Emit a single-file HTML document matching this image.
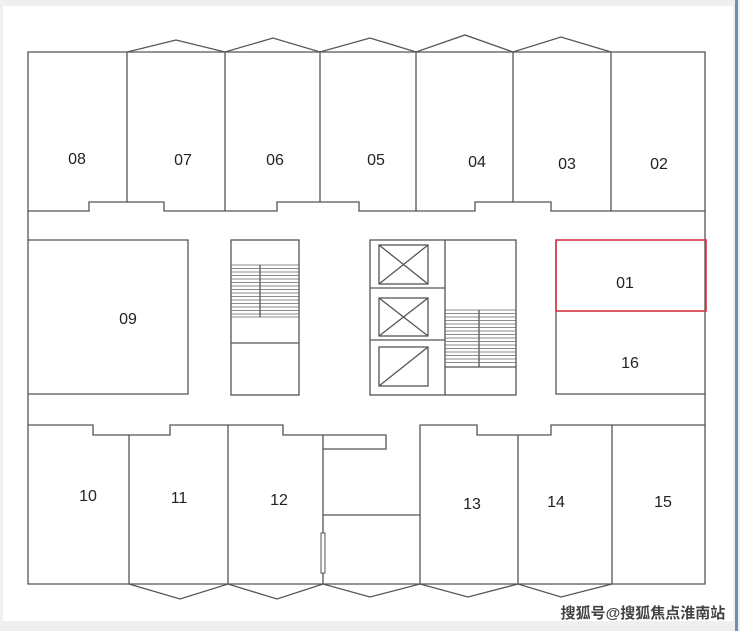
<!DOCTYPE html>
<html><head><meta charset="utf-8"><style>
html,body{margin:0;padding:0;width:740px;height:631px;overflow:hidden;background:#efefef}
svg{display:block}
text{font-family:"Liberation Sans","DejaVu Sans",sans-serif;font-size:16px;fill:#222;text-anchor:middle;dominant-baseline:middle}
</style></head><body>
<svg width="740" height="631" viewBox="0 0 740 631" xmlns="http://www.w3.org/2000/svg">
<rect x="0" y="0" width="740" height="631" fill="#efefef"/>
<rect x="3" y="6" width="730" height="615" fill="#ffffff"/>
<rect x="735" y="0" width="3" height="631" fill="#6d8fb0"/>
<g fill="none" stroke="#555" stroke-width="1.3">
<path d="M28 52 H705 V211 H551 V202 H475 V211 H359 V202 H277 V211 H164 V202 H89 V211 H28 Z"/>
<path d="M127 52 V202 M225 52 V211 M320 52 V202 M416 52 V211 M513 52 V202 M611 52 V211"/>
<path d="M127 52 L176 40 L225 52 L273 38 L320 52 L370 38 L416 52 L465 35 L513 52 L561 37 L611 52"/>
<path d="M28 211 V425 M705 211 V425"/>
<path d="M28 240 H188 V394 H28"/>
<rect x="231" y="240" width="68" height="155"/>
<path d="M231 343 H299 M260 265 V317"/>
<rect x="370" y="240" width="146" height="155"/>
<path d="M445 240 V395 M370 288 H445 M370 340 H445"/>
<rect x="379" y="245" width="49" height="39"/>
<path d="M379 245 L428 284 M428 245 L379 284"/>
<rect x="379" y="298" width="49" height="38"/>
<path d="M379 298 L428 336 M428 298 L379 336"/>
<rect x="379" y="347" width="49" height="39"/>
<path d="M379 386 L428 347"/>
<path d="M445 367 H516 M479 310 V367"/>
<path d="M556 240 V394 H705"/>
<path d="M28 425 H93 V435 H170 V425 H283 V435 H323 M323 435 H386 V449 H323"/>
<path d="M420 584 V425 H477 V435 H551 V425 H705 V584 H28 V425"/>
<path d="M129 435 V584 M228 425 V584 M323 435 V584 M518 435 V584 M612 425 V584 M323 515 H420"/>
<path d="M129 584 L180 599 L228 584 L277 599 L323 584 L370 597 L420 584 L468 597 L518 584 L561 597 L612 584"/>
</g>
<rect x="321" y="533" width="4" height="40" fill="#fff" stroke="#555" stroke-width="1"/>
<g stroke="#666" stroke-width="0.8">
<path d="M231 265H299M231 268.5H299M231 272H299M231 275.5H299M231 279H299M231 282.5H299M231 286H299M231 289.5H299M231 293H299M231 296.5H299M231 300H299M231 303.5H299M231 307H299M231 310.5H299M231 314H299M231 317H299"/>
<path d="M445 310H516M445 313.5H516M445 317H516M445 320.5H516M445 324H516M445 327.5H516M445 331H516M445 334.5H516M445 338H516M445 341.5H516M445 345H516M445 348.5H516M445 352H516M445 355.5H516M445 359H516M445 362.5H516"/>
</g>
<rect x="556" y="240" width="150" height="71" fill="none" stroke="#d9343f" stroke-width="1.6"/>
<text x="77" y="160">08</text><text x="183" y="161">07</text><text x="275" y="161">06</text>
<text x="376" y="161">05</text><text x="477" y="163">04</text><text x="567" y="165">03</text>
<text x="659" y="165">02</text><text x="128" y="320">09</text><text x="625" y="284">01</text>
<text x="630" y="364">16</text><text x="88" y="497">10</text><text x="179" y="499">11</text>
<text x="279" y="501">12</text><text x="472" y="505">13</text><text x="556" y="503">14</text>
<text x="663" y="503">15</text>
<text x="643" y="614" style="font-family:'Liberation Sans','Noto Sans CJK SC',sans-serif;font-size:15px;font-weight:bold;fill:#444;stroke:#fff;stroke-width:0.6;paint-order:stroke">搜狐号@搜狐焦点淮南站</text>
</svg>
</body></html>
